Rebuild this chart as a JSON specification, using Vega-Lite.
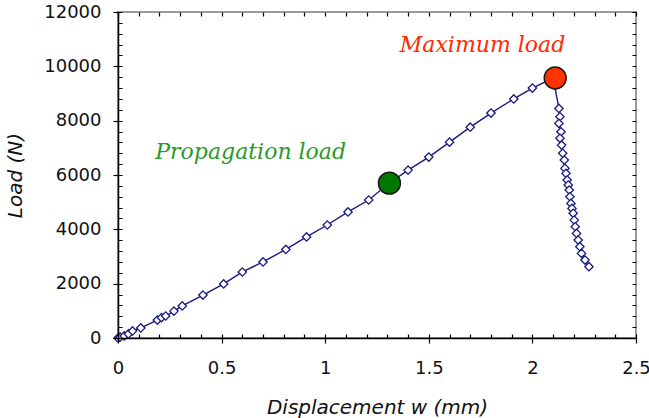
{
  "$schema": "https://vega.github.io/schema/vega-lite/v6.json",
  "autosize": "none",
  "width": 518,
  "height": 326,
  "padding": {"left": 118, "top": 12, "right": 13, "bottom": 80},
  "background": "white",
  "config": {
    "view": {"stroke": "#9a9a9a", "strokeWidth": 2},
    "axis": {"domainColor": "#000", "domainWidth": 1.5, "tickColor": "#000", "tickWidth": 1.2, "labelFont": "DejaVu Sans", "labelFontSize": 18, "labelColor": "#111", "titleFont": "DejaVu Sans", "titleFontStyle": "italic", "titleFontWeight": "normal", "titleFontSize": 20, "titleColor": "#111"}
  },
  "datasets": {
    "curve": [
      {"i": 0, "w": 0.0, "load": 0},
      {"i": 1, "w": 0.01, "load": 30},
      {"i": 2, "w": 0.03, "load": 75},
      {"i": 3, "w": 0.05, "load": 150},
      {"i": 4, "w": 0.07, "load": 260},
      {"i": 5, "w": 0.11, "load": 370},
      {"i": 6, "w": 0.19, "load": 660},
      {"i": 7, "w": 0.21, "load": 750},
      {"i": 8, "w": 0.23, "load": 810},
      {"i": 9, "w": 0.27, "load": 990},
      {"i": 10, "w": 0.31, "load": 1180},
      {"i": 11, "w": 0.41, "load": 1580},
      {"i": 12, "w": 0.51, "load": 1990},
      {"i": 13, "w": 0.60, "load": 2430},
      {"i": 14, "w": 0.70, "load": 2800},
      {"i": 15, "w": 0.81, "load": 3260},
      {"i": 16, "w": 0.91, "load": 3720},
      {"i": 17, "w": 1.01, "load": 4160},
      {"i": 18, "w": 1.11, "load": 4640},
      {"i": 19, "w": 1.21, "load": 5080},
      {"i": 20, "w": 1.30, "load": 5650},
      {"i": 21, "w": 1.40, "load": 6180},
      {"i": 22, "w": 1.50, "load": 6660},
      {"i": 23, "w": 1.60, "load": 7210},
      {"i": 24, "w": 1.70, "load": 7760},
      {"i": 25, "w": 1.80, "load": 8280},
      {"i": 26, "w": 1.91, "load": 8800},
      {"i": 27, "w": 2.00, "load": 9200},
      {"i": 28, "w": 2.10, "load": 9570},
      {"i": 29, "w": 2.128, "load": 8450},
      {"i": 30, "w": 2.133, "load": 8145},
      {"i": 31, "w": 2.128, "load": 7900},
      {"i": 32, "w": 2.138, "load": 7590},
      {"i": 33, "w": 2.133, "load": 7350},
      {"i": 34, "w": 2.141, "load": 7100},
      {"i": 35, "w": 2.146, "load": 6800},
      {"i": 36, "w": 2.154, "load": 6550},
      {"i": 37, "w": 2.157, "load": 6245},
      {"i": 38, "w": 2.162, "load": 6060},
      {"i": 39, "w": 2.168, "load": 5815},
      {"i": 40, "w": 2.173, "load": 5630},
      {"i": 41, "w": 2.178, "load": 5445},
      {"i": 42, "w": 2.181, "load": 5200},
      {"i": 43, "w": 2.186, "load": 4955},
      {"i": 44, "w": 2.191, "load": 4770},
      {"i": 45, "w": 2.197, "load": 4590},
      {"i": 46, "w": 2.202, "load": 4340},
      {"i": 47, "w": 2.207, "load": 4095},
      {"i": 48, "w": 2.213, "load": 3850},
      {"i": 49, "w": 2.221, "load": 3605},
      {"i": 50, "w": 2.229, "load": 3360},
      {"i": 51, "w": 2.237, "load": 3115},
      {"i": 52, "w": 2.254, "load": 2870},
      {"i": 53, "w": 2.273, "load": 2625}
    ],
    "keys": [
      {"w": 1.31, "load": 5700, "kind": "Propagation load"},
      {"w": 2.11, "load": 9570, "kind": "Maximum load"}
    ],
    "notes": [
      {"w": 0.18, "load": 6850, "text": "Propagation load", "kind": "Propagation load"},
      {"w": 1.36, "load": 10780, "text": "Maximum load", "kind": "Maximum load"}
    ]
  },
  "layer": [
    {
      "data": {"name": "curve"},
      "mark": {"type": "rule", "opacity": 0},
      "encoding": {
        "x": {"field": "w", "type": "quantitative", "scale": {"domain": [0, 2.5], "nice": false}, "axis": {"orient": "bottom", "values": [0.1, 0.2, 0.3, 0.4, 0.6, 0.7, 0.8, 0.9, 1.1, 1.2, 1.3, 1.4, 1.6, 1.7, 1.8, 1.9, 2.1, 2.2, 2.3, 2.4], "ticks": false, "labels": false, "domain": false, "title": null, "grid": true, "gridColor": "#000", "gridOpacity": 1, "gridWidth": 1.2, "gridDash": [4, 318, 4, 2000], "zindex": 1}},
        "y": {"field": "load", "type": "quantitative", "scale": {"domain": [0, 12000], "nice": false}, "axis": {"orient": "left", "values": [400, 800, 1200, 1600, 2400, 2800, 3200, 3600, 4400, 4800, 5200, 5600, 6400, 6800, 7200, 7600, 8400, 8800, 9200, 9600, 10400, 10800, 11200, 11600], "ticks": false, "labels": false, "domain": false, "title": null, "grid": true, "gridColor": "#000", "gridOpacity": 1, "gridWidth": 1.2, "gridDash": [4, 510, 4, 2000], "zindex": 1}}
      }
    },
    {
      "data": {"name": "curve"},
      "mark": {"type": "line", "color": "#1a1a80", "strokeWidth": 1.4, "point": {"shape": "diamond", "size": 70, "filled": true, "fill": "white", "stroke": "#1a1a80", "strokeWidth": 1.3}},
      "encoding": {
        "x": {"field": "w", "type": "quantitative", "axis": {"orient": "bottom", "title": "Displacement w (mm)", "values": [0, 0.5, 1, 1.5, 2, 2.5], "format": "~g", "tickSize": 5, "labelPadding": 16, "titlePadding": 20, "labelFlush": false, "grid": true, "gridColor": "#000", "gridOpacity": 1, "gridWidth": 1.2, "gridDash": [4, 318, 4, 2000], "zindex": 1}},
        "y": {"field": "load", "type": "quantitative", "axis": {"orient": "left", "title": "Load (N)", "values": [0, 2000, 4000, 6000, 8000, 10000, 12000], "format": "d", "tickSize": 5, "labelPadding": 12, "titlePadding": 18, "grid": true, "gridColor": "#000", "gridOpacity": 1, "gridWidth": 1.2, "gridDash": [4, 510, 4, 2000], "zindex": 1}},
        "order": {"field": "i", "type": "quantitative"}
      }
    },
    {
      "data": {"name": "keys"},
      "mark": {"type": "point", "shape": "circle", "filled": true, "size": 480, "stroke": "#1a1a1a", "strokeWidth": 1.5, "opacity": 1},
      "encoding": {
        "x": {"field": "w", "type": "quantitative", "axis": null},
        "y": {"field": "load", "type": "quantitative", "axis": null},
        "fill": {"field": "kind", "type": "nominal", "scale": {"domain": ["Propagation load", "Maximum load"], "range": ["#007800", "#ff3300"]}, "legend": null}
      }
    },
    {
      "data": {"name": "notes"},
      "mark": {"type": "text", "align": "left", "baseline": "middle", "font": "DejaVu Serif", "fontStyle": "italic", "fontSize": 22},
      "encoding": {
        "x": {"field": "w", "type": "quantitative", "axis": null},
        "y": {"field": "load", "type": "quantitative", "axis": null},
        "text": {"field": "text"},
        "color": {"field": "kind", "type": "nominal", "scale": {"domain": ["Propagation load", "Maximum load"], "range": ["#2a9a2a", "#ff2a00"]}, "legend": null}
      }
    }
  ],
  "resolve": {"axis": {"x": "independent", "y": "independent"}}
}
